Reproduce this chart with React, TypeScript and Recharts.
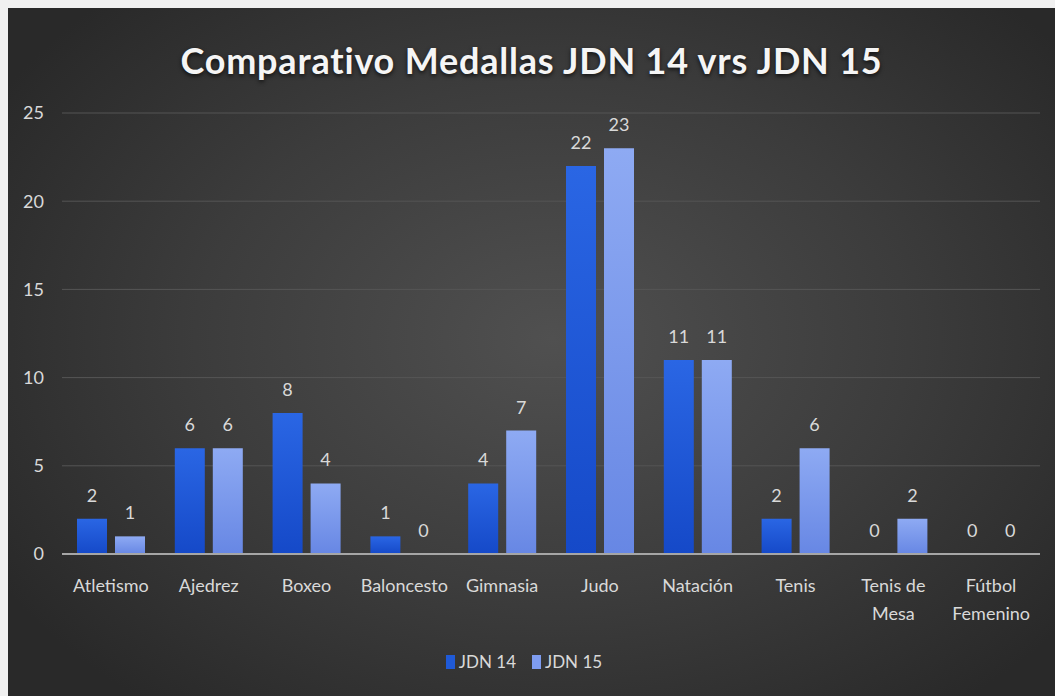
import { BarChart, Bar, XAxis, YAxis, CartesianGrid, LabelList, Legend } from "recharts"

const categories = ["Atletismo", "Ajedrez", "Boxeo", "Baloncesto", "Gimnasia", "Judo", "Natación", "Tenis", "Tenis de\nMesa", "Fútbol\nFemenino"]
const jdn14 = [2, 6, 8, 1, 4, 22, 11, 2, 0, 0]
const jdn15 = [1, 6, 4, 0, 7, 23, 11, 6, 2, 0]
const yTicks = [0, 5, 10, 15, 20, 25]

const data = categories.map((name, i) => ({ name, jdn14: jdn14[i], jdn15: jdn15[i] }))

const font = "Lato, 'Open Sans', sans-serif"
const textColor = "#d9d9d9"

function CategoryTick({ x, y, payload }: any) {
  const lines = String(payload.value).split("\n")
  return (
    <text x={x} y={y} textAnchor="middle" fill={textColor} fontSize={18} fontFamily={font}>
      {lines.map((line, i) => (
        <tspan key={i} x={x} dy={i === 0 ? 30 : 28}>
          {line}
        </tspan>
      ))}
    </text>
  )
}

// draws the value above the bar, zero values included
function ValueLabel({ x, y, width, value }: any) {
  return (
    <text x={x + width / 2} y={y - 17} textAnchor="middle" fill={textColor} fontSize={18} fontFamily={font}>
      {value}
    </text>
  )
}

function LegendBox() {
  const items = [
    { label: "JDN 14", color: "#1f5ad8" },
    { label: "JDN 15", color: "#7e9cf0" },
  ]
  return (
    <div style={{ display: "flex", justifyContent: "center", gap: 16, fontFamily: font, fontSize: 17, color: textColor }}>
      {items.map((it) => (
        <div key={it.label} style={{ display: "flex", alignItems: "center", gap: 4 }}>
          <span style={{ display: "inline-block", width: 9, height: 14, background: it.color }} />
          <span>{it.label}</span>
        </div>
      ))}
    </div>
  )
}

export default function App() {
  return (
    <div style={{ width: 1055, height: 696, overflow: "hidden", background: "#f0f0f0" }}>
      <style>{`body{margin:0;background:#f0f0f0}`}</style>
      <div
        style={{
          position: "relative",
          marginLeft: 8,
          marginTop: 8,
          width: 1047,
          height: 688,
          background: "radial-gradient(ellipse 62% 68% at 52% 48%, #505050 0%, #3c3c3c 55%, #292929 100%)",
        }}
      >
        <div
          style={{
            position: "absolute",
            top: 30,
            left: 0,
            width: "100%",
            textAlign: "center",
            fontFamily: font,
            fontWeight: 700,
            fontSize: 36,
            color: "#f5f5f5",
            letterSpacing: 0.8,
            textShadow: "0 2px 4px rgba(0,0,0,0.7)",
          }}
        >
          Comparativo Medallas JDN 14 vrs JDN 15
        </div>
        <BarChart
          width={1047}
          height={688}
          data={data}
          margin={{ top: 105, right: 15, left: 0, bottom: 0 }}
          barSize={30}
          barGap={8}
        >
          <defs>
            <linearGradient id="g14" x1="0" y1="0" x2="0" y2="1">
              <stop offset="0%" stopColor="#2a66e4" />
              <stop offset="100%" stopColor="#1549c8" />
            </linearGradient>
            <linearGradient id="g15" x1="0" y1="0" x2="0" y2="1">
              <stop offset="0%" stopColor="#8eaaf3" />
              <stop offset="100%" stopColor="#6787e4" />
            </linearGradient>
          </defs>
          <CartesianGrid vertical={false} stroke="#555555" strokeWidth={1} />
          <XAxis
            dataKey="name"
            interval={0}
            tick={<CategoryTick />}
            tickLine={false}
            axisLine={{ stroke: "#a6a6a6", strokeWidth: 2 }}
            height={121}
          />
          <YAxis
            domain={[0, 25]}
            ticks={yTicks}
            width={54}
            axisLine={false}
            tickLine={false}
            tickSize={0}
            tickMargin={18}
            tick={{ fill: textColor, fontSize: 18, fontFamily: font }}
          />
          <Legend verticalAlign="bottom" content={<LegendBox />} wrapperStyle={{ bottom: 24 }} />
          <Bar dataKey="jdn14" name="JDN 14" fill="url(#g14)" minPointSize={0.01} isAnimationActive={false}>
            <LabelList dataKey="jdn14" content={<ValueLabel />} />
          </Bar>
          <Bar dataKey="jdn15" name="JDN 15" fill="url(#g15)" minPointSize={0.01} isAnimationActive={false}>
            <LabelList dataKey="jdn15" content={<ValueLabel />} />
          </Bar>
        </BarChart>
      </div>
    </div>
  )
}
